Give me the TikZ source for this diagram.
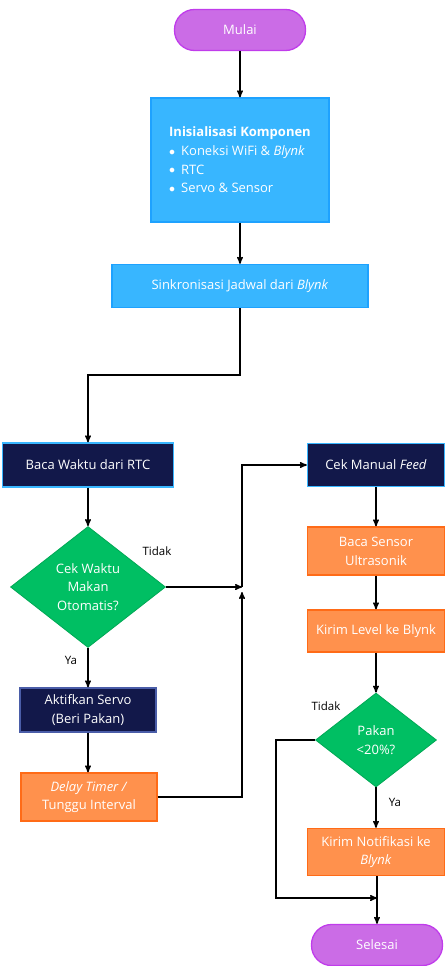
\documentclass[tikz,border=0pt]{standalone}
\usepackage{fontspec}
\setmainfont{Open Sans}
\usetikzlibrary{arrows,shapes.geometric}

\definecolor{ungu}{HTML}{CB6CE6}
\definecolor{unguTepi}{HTML}{C03CEB}
\definecolor{biru}{HTML}{38B6FF}
\definecolor{biruTepi}{HTML}{1EA2FF}
\definecolor{navy}{HTML}{12184A}
\definecolor{navyTepi}{HTML}{4A5DA8}
\definecolor{hijau}{HTML}{00BF63}
\definecolor{hijauTepi}{HTML}{00A855}
\definecolor{oranye}{HTML}{FF914D}
\definecolor{oranyeTepi}{HTML}{FF6B17}

\newcommand{\butir}{\raisebox{0.5pt}{$\bullet$}\hspace{6pt}}

\begin{document}
\begin{tikzpicture}[x=1pt,y=-1pt,->,>=stealth',line width=1.4pt,
        font=\fontsize{13}{18.7}\selectfont,
        box/.style={rectangle,draw,line width=1.3pt,text=white,align=center,inner sep=2pt},
        term/.style={box,fill=ungu,draw=unguTepi,rounded corners=20pt,
          minimum width=131pt,minimum height=41pt},
        proc/.style={box,fill=biru,draw=biruTepi},
        dark/.style={box,fill=navy,draw=biru},
        act/.style={box,fill=oranye,draw=oranyeTepi},
        decision/.style={diamond,draw,fill=hijau,draw=hijauTepi,line width=0.8pt,
          text=white,align=center,inner sep=0pt},
        lbl/.style={font=\fontsize{11.5}{14}\selectfont,text=black}]
      \useasboundingbox (0,0) rectangle (445,966);

      \node[term] (mulai) at (240,30) {Mulai};
      \node[proc,minimum width=178pt,minimum height=124pt,align=left] (init) at (240,160)
        {\textbf{Inisialisasi Komponen}\\
         \butir Koneksi WiFi \& \textit{Blynk}\\
         \butir RTC\\
         \butir Servo \& Sensor};
      \node[proc,minimum width=256pt,minimum height=43pt] (sinkron) at (240,286)
        {Sinkronisasi Jadwal dari \textit{Blynk}};

      % kolom kiri
      \node[dark,minimum width=171pt,minimum height=44pt] (waktu) at (88,465)
        {Baca Waktu dari RTC};
      \node[decision,minimum width=155pt,minimum height=121pt] (cekwaktu) at (88,587)
        {Cek Waktu\\Makan\\Otomatis?};
      \node[dark,draw=navyTepi,minimum width=136pt,minimum height=44pt] (servo) at (88,710)
        {Aktifkan Servo\\(Beri Pakan)};
      \node[act,minimum width=136pt,minimum height=48pt] (delay) at (89,797)
        {\textit{Delay Timer /}\\Tunggu Interval};

      % kolom kanan
      \node[dark,minimum width=137pt,minimum height=43pt] (manual) at (376,465)
        {Cek Manual \textit{Feed}};
      \node[act,minimum width=137pt,minimum height=48pt] (sensor) at (376,551)
        {Baca Sensor\\Ultrasonik};
      \node[act,minimum width=137pt,minimum height=42pt] (level) at (376,631)
        {Kirim Level ke Blynk};
      \node[decision,minimum width=121pt,minimum height=94pt] (pakan) at (376,740)
        {Pakan\\<20\%?};
      \node[act,minimum width=137pt,minimum height=47pt] (notif) at (376,852)
        {Kirim Notifikasi ke\\\textit{Blynk}};
      \node[term] (selesai) at (377,945) {Selesai};

      \node[lbl] (tidak1) at (157,551) {Tidak};
      \node[lbl] (ya1) at (71,660) {Ya};
      \node[lbl] (tidak2) at (326,706) {Tidak};
      \node[lbl] (ya2) at (395,802) {Ya};

      \coordinate (gabung) at (242,587);
      \coordinate (gabungBawah) at (242,592);
      \coordinate (akhir) at (377,898);

      \draw (mulai) -- (init);
      \draw (init) -- (sinkron);
      \draw (sinkron.south) -- ++(0,67) -| (waktu.north);
      \draw (waktu) -- (cekwaktu);
      \draw (cekwaktu.east) -- (gabung);
      \draw (cekwaktu) -- (servo);
      \draw (servo.south) -- (servo.south |- delay.north);
      \draw (delay.east) -| (gabungBawah);
      \draw (gabung) |- (manual.west);
      \draw (manual) -- (sensor);
      \draw (sensor) -- (level);
      \draw (level) -- (pakan);
      \draw (pakan) -- (notif);
      \draw (pakan.west) -- ++(-39,0) |- (akhir);
      \draw (notif.south -| selesai) -- (selesai.north);
      \end{tikzpicture}
\end{document}
